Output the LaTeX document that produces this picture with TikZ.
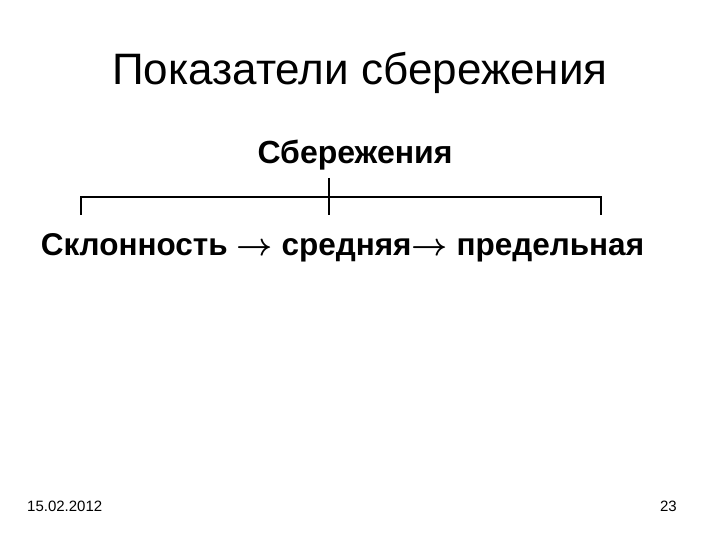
\RequirePackage{fix-cm}
\documentclass[tikz,border=0pt]{standalone}
\usepackage{fontspec}
\setmainfont{Liberation Sans}
\newcommand{\myarr}{{\boldmath$\rightarrow$}}
\begin{document}
\begin{tikzpicture}[x=1pt,y=-1pt,
  title/.style={font=\fontsize{44}{52}\selectfont, anchor=base, inner sep=0pt},
  bold/.style={font=\fontsize{32}{38}\selectfont\bfseries, anchor=base, inner sep=0pt},
  foot/.style={font=\fontsize{15}{18}\selectfont, anchor=base, inner sep=0pt},
  bracket/.style={line width=2pt}]
\useasboundingbox (0,0) rectangle (720,540);
\node[title] (t) at (360,85) {Показатели сбережения};
\node[bold] (s) at (355,164) {Сбережения};
\node[bold, font=\fontsize{31.5}{38}\selectfont\bfseries] (k) at (342.5,255) {Склонность \myarr{} средняя\myarr{} предельная};
\coordinate (L) at (81,215);
\coordinate (R) at (601,215);
\coordinate (Ltop) at (81,197);
\coordinate (Rtop) at (601,197);
\coordinate (Mtop) at (329,178);
\coordinate (Mbot) at (329,215);
\draw[bracket] (L) -- (Ltop) -- (Rtop) -- (R);
\draw[bracket] (Mtop) -- (Mbot);
\node[foot, anchor=base west] (d) at (27,511) {15.02.2012};
\node[foot, anchor=base east] (n) at (677,511) {23};
\end{tikzpicture}
\end{document}
